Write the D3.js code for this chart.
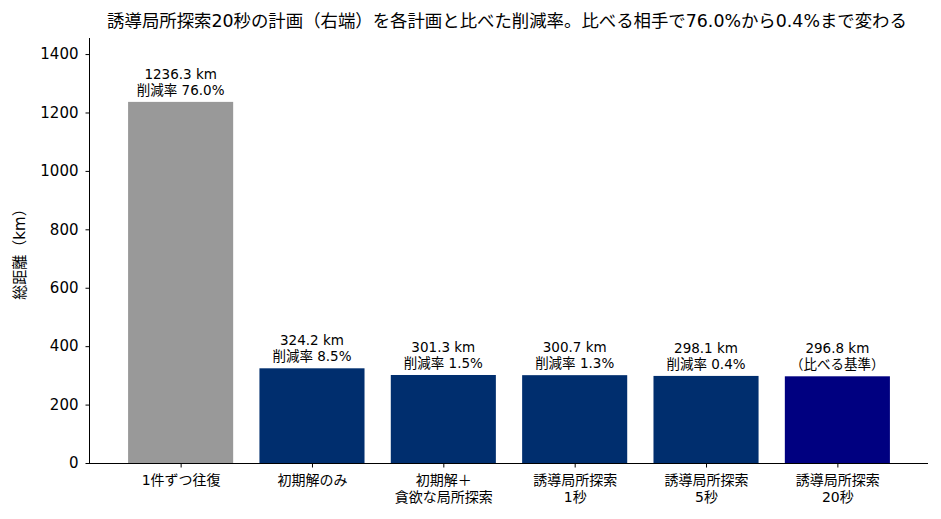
<!DOCTYPE html>
<html>
<head>
<meta charset="utf-8">
<script src="https://cdn.jsdelivr.net/npm/d3@7"></script>
<style>
  body { margin: 0; background: #fff; }
  text { font-family: "DejaVu Sans", "Noto Sans CJK JP", sans-serif; fill: #000; }
</style>
</head>
<body>
<svg id="chart"></svg>
<script>
// data
var categories = [["1件ずつ往復"], ["初期解のみ"], ["初期解＋", "貪欲な局所探索"],
  ["誘導局所探索", "1秒"], ["誘導局所探索", "5秒"], ["誘導局所探索", "20秒"]];
var distances = [1236.3, 324.2, 301.3, 300.7, 298.1, 296.8];
var notes = ["削減率 76.0%", "削減率 8.5%", "削減率 1.5%", "削減率 1.3%", "削減率 0.4%", "（比べる基準）"];
var barColors = ["#999999", "#002e6e", "#002e6e", "#002e6e", "#002e6e", "#000080"];
var yTicks = [0, 200, 400, 600, 800, 1000, 1200, 1400];

var width = 941;
var height = 519;
var mLeft = 90, mRight = 928, mTop = 38, mBottom = 463;

var svg = d3.select("#chart").attr("width", width).attr("height", height);

/* scales */
var xScale = d3.scaleLinear().domain([-0.69, 5.69]).range([mLeft, mRight]);
var yScale = d3.scaleLinear().domain([0, 1455]).range([mBottom, mTop]);
var barW = xScale(0.8) - xScale(0);

/* bars */
svg.selectAll("rect.bar")
  .data(distances)
  .enter()
  .append("rect")
  .attr("class", "bar")
  .attr("x", (d, i) => xScale(i) - barW / 2)
  .attr("y", (d) => yScale(d))
  .attr("width", barW)
  .attr("height", (d) => mBottom - yScale(d))
  .attr("fill", (d, i) => barColors[i]);

/* value labels, two lines each */
var labels = svg.selectAll("text.val")
  .data(distances)
  .enter()
  .append("text")
  .attr("class", "val")
  .attr("text-anchor", "middle")
  .attr("font-size", 13.5);
labels.append("tspan")
  .attr("x", (d, i) => xScale(i))
  .attr("y", (d) => yScale(d) - 23)
  .text((d) => d.toFixed(1) + " km");
labels.append("tspan")
  .attr("x", (d, i) => xScale(i))
  .attr("y", (d) => yScale(d) - 7)
  .text((d, i) => notes[i]);

/* axes */
var xAxis = d3.axisBottom(xScale).tickValues(d3.range(categories.length)).tickSize(4.5).tickFormat("");
var gx = svg.append("g")
  .attr("transform", "translate(0," + mBottom + ")")
  .call(xAxis);
gx.select(".domain").attr("d", "M" + mLeft + ",0.5H" + mRight);
gx.selectAll(".tick").each(function (d) {
  var t = d3.select(this).append("text")
    .attr("text-anchor", "middle")
    .attr("font-size", 14)
    .attr("fill", "#000");
  categories[d].forEach((line, k) => {
    t.append("tspan").attr("x", 0).attr("y", 22 + k * 17).text(line);
  });
});

var yAxis = d3.axisLeft(yScale).tickValues(yTicks).tickSize(4.5).tickPadding(7).tickFormat(d3.format("d"));
var gy = svg.append("g")
  .attr("transform", "translate(" + mLeft + ",0)")
  .call(yAxis);
gy.select(".domain").attr("d", "M-0.5," + mTop + "V" + mBottom);
gy.selectAll("text").attr("font-size", 15).attr("font-family", "'DejaVu Sans', sans-serif");

svg.append("text")
  .attr("transform", "translate(25," + (mTop + mBottom) / 2 + ") rotate(-90)")
  .attr("text-anchor", "middle")
  .attr("font-size", 15)
  .text("総距離（km）");

svg.append("text")
  .attr("x", (mLeft + mRight) / 2 - 2)
  .attr("y", 27)
  .attr("text-anchor", "middle")
  .attr("font-size", 17.4)
  .text("誘導局所探索20秒の計画（右端）を各計画と比べた削減率。比べる相手で76.0%から0.4%まで変わる");
</script>
</body>
</html>
